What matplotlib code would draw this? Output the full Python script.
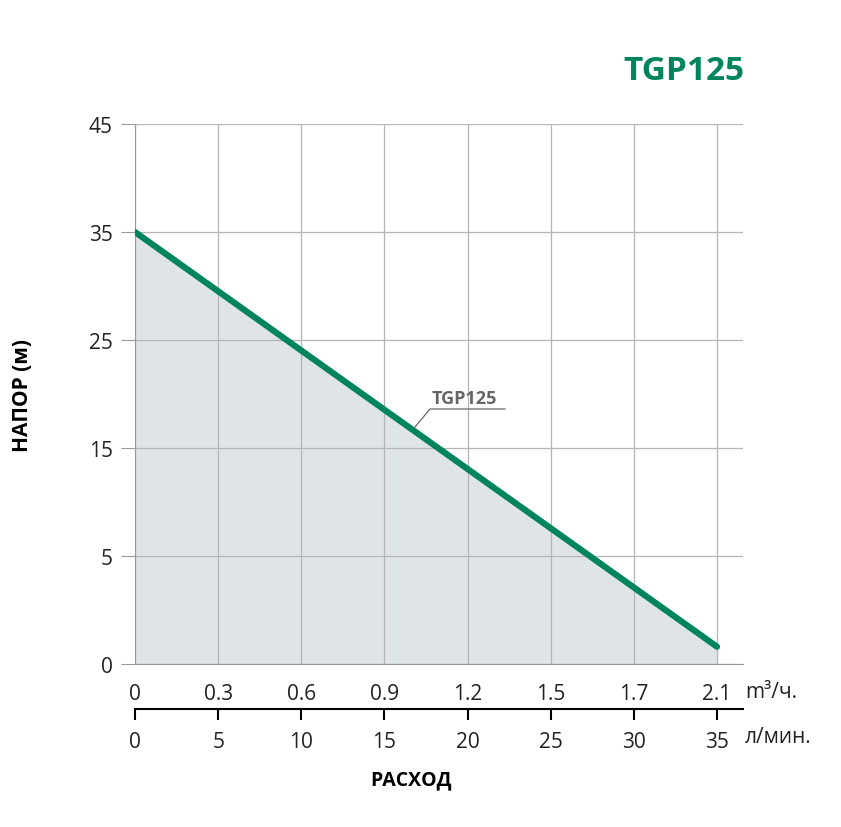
import matplotlib.pyplot as plt
import numpy as np

flow_lmin = [0, 35]
head_m = [35, 0.8]
x_ticks_lmin = [0, 5, 10, 15, 20, 25, 30, 35]
x_labels_m3 = ["0", "0.3", "0.6", "0.9", "1.2", "1.5", "1.7", "2.1"]
y_labels = [0, 5, 15, 25, 35, 45]

GREEN = "#00845e"
plt.rcParams['font.family'] = ['Open Sans', 'DejaVu Sans']

def ypos(v):
    v = np.asarray(v, dtype=float)
    return np.where(v <= 5, v / 5, 1 + (v - 5) / 10)

fig = plt.figure(figsize=(8.41, 8.28), dpi=100)
ax = fig.add_axes([135/841, 1-665/828, (743-135)/841, (665-125)/828])
ax.set_xlim(0, 35*(743-135)/(717-135))
ax.set_ylim(0, 5)
yp = ypos(head_m)
ax.fill_between(flow_lmin, yp, 0, color="#dfe4e7", zorder=1)
ax.plot(flow_lmin, yp, color=GREEN, lw=4.5, solid_capstyle='round', zorder=3)
ax.set_yticks(ypos(y_labels))
ax.set_yticklabels([str(v) for v in y_labels], fontsize=15, color="#222")
ax.set_xticks(x_ticks_lmin)
ax.set_xticklabels(x_labels_m3, fontsize=15, color="#222")
ax.tick_params(axis='y', length=10, color="#999", pad=6)
ax.tick_params(axis='x', length=0, pad=14)
ax.grid(True, color="#b5b5b5", lw=0.9, zorder=0)
for s in ['top', 'right']:
    ax.spines[s].set_visible(False)
ax.spines['left'].set_color("#999")
ax.spines['bottom'].set_color("#999")
ax.set_ylabel("НАПОР (м)", fontsize=15, fontweight='bold', labelpad=40)
fig.text(745/841, 1-693/828, "m³/ч.", fontsize=15, va='center', color="#222")

ax2 = fig.add_axes([135/841, 1-710/828, (743-135)/841, 0.0001])
ax2.set_xlim(ax.get_xlim())
ax2.set_yticks([])
for s in ['top', 'right', 'left']:
    ax2.spines[s].set_visible(False)
ax2.spines['bottom'].set_linewidth(1.5)
ax2.set_xticks(x_ticks_lmin)
ax2.set_xticklabels([str(v) for v in x_ticks_lmin], fontsize=15, color="#222")
ax2.tick_params(axis='x', direction='out', length=8, width=1.5, pad=8)
fig.text(745/841, 1-738/828, "л/мин.", fontsize=15, va='center', color="#222")
fig.text(411/841, 1-780/828, "РАСХОД", fontsize=14, fontweight='bold', ha='center', va='center')
fig.text(745/841, 1-72/828, "TGP125", fontsize=24, fontweight='bold', color=GREEN, ha='right', va='center')

# annotation
xa = lambda px: (px-135)/(717-135)*35
ya = lambda py: (665-py)/108
ax.plot([xa(415), xa(430), xa(505)], [ya(428), ya(410), ya(410)], color="#666", lw=0.9, zorder=4)
ax.text(xa(464), ya(399), "TGP125", fontsize=13, fontweight='bold', color="#666", ha='center', va='center', zorder=4)
fig.savefig("out.png", dpi=100)
